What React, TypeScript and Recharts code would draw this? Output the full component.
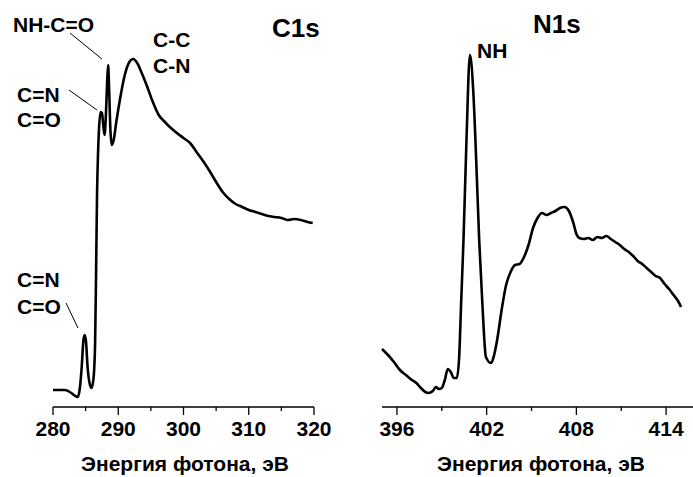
import React from 'react';
import { LineChart, Line, XAxis, YAxis, ReferenceLine } from 'recharts';

// C1s spectrum: photon energy (eV) and intensity (arb. units)
const c1sEnergy = [280.0, 281.0, 281.8, 282.6, 283.2, 283.8, 284.1, 284.4, 284.65, 284.85, 285.05, 285.3, 285.6, 285.9, 286.2, 286.45, 286.6, 286.75, 286.9, 287.05, 287.3, 287.5, 287.7, 287.9, 288.1, 288.3, 288.45, 288.6, 288.8, 289.0, 289.3, 289.7, 290.3, 291.0, 291.7, 292.3, 292.9, 293.6, 294.4, 295.3, 296.2, 297.0, 297.9, 299.0, 300.0, 301.0, 302.0, 303.0, 304.0, 305.0, 306.0, 307.0, 308.0, 309.0, 310.0, 311.0, 312.0, 313.0, 314.0, 315.0, 316.0, 317.0, 318.0, 319.0, 319.8];
const c1sIntensity = [17, 17, 17, 15, 12, 10, 18, 40, 66, 72, 66, 40, 24, 19, 28, 63, 133, 213, 253, 278, 295, 294, 282, 272, 291, 325, 342, 318, 277, 262, 267, 285, 309, 332, 345, 348, 344, 334, 321, 305, 292, 286, 280, 274, 269, 264, 255, 246, 236, 225, 215, 208, 203, 200, 197, 195, 193, 191, 190, 189, 187, 188, 187, 185, 184];

// N1s spectrum
const n1sEnergy = [395.0, 395.4, 395.8, 396.2, 396.6, 397.0, 397.3, 397.6, 397.9, 398.1, 398.4, 398.6, 398.8, 399.0, 399.2, 399.4, 399.6, 399.8, 400.0, 400.15, 400.3, 400.45, 400.65, 400.88, 401.1, 401.3, 401.5, 401.7, 401.95, 402.3, 402.5, 402.7, 403.0, 403.3, 403.6, 403.9, 404.2, 404.5, 404.8, 405.1, 405.4, 405.7, 406.0, 406.3, 406.6, 406.9, 407.2, 407.5, 407.8, 408.0, 408.2, 408.5, 408.8, 409.1, 409.4, 409.7, 410.0, 410.3, 410.6, 410.9, 411.2, 411.5, 411.8, 412.1, 412.4, 412.7, 413.0, 413.3, 413.6, 413.9, 414.2, 414.5, 414.8, 415.0];
const n1sIntensity = [58, 52, 45, 37, 32, 27, 24, 19, 15, 14, 16, 20, 18, 19, 27, 38, 35, 29, 29, 47, 107, 167, 267, 352, 317, 247, 167, 107, 50, 44, 52, 67, 97, 122, 135, 142, 143, 150, 162, 179, 189, 194, 192, 194, 196, 199, 200, 196, 184, 173, 169, 168, 169, 167, 170, 169, 171, 168, 165, 162, 158, 155, 151, 146, 143, 139, 135, 131, 129, 123, 118, 112, 106, 100];

const c1sTicks = [280, 285, 290, 295, 300, 305, 310, 315, 320];
const c1sMajor = [280, 290, 300, 310, 320];
const n1sTicks = [396, 399, 402, 405, 408, 411, 414];
const n1sMajor = [396, 402, 408, 414];

const c1sData = c1sEnergy.map((e, i) => ({ e, v: c1sIntensity[i] }));
const n1sData = n1sEnergy.map((e, i) => ({ e, v: n1sIntensity[i] }));

const FONT = '"Liberation Sans", Arial, sans-serif';

const makeTick = (majors: number[]) => (props: any) => {
  const { x, y, payload } = props;
  const major = majors.includes(payload.value);
  return (
    <g>
      <line x1={x} x2={x} y1={y} y2={y + (major ? 8 : 4)} stroke="#000" strokeWidth={1.3} />
      {major && (
        <text x={x} y={y + 29} textAnchor="middle" fontFamily={FONT} fontWeight="bold" fontSize={21} fill="#000">
          {payload.value}
        </text>
      )}
    </g>
  );
};

const T = (p: { x: number; y: number; s?: number; a?: 'start' | 'middle' | 'end'; children: React.ReactNode }) => (
  <text x={p.x} y={p.y} fontSize={p.s ?? 21} textAnchor={p.a ?? 'start'} fontFamily={FONT} fontWeight="bold" fill="#000">
    {p.children}
  </text>
);

export default function App() {
  return (
    <div style={{ position: 'absolute', left: 0, top: 0, width: 693, height: 477, background: '#fff' }}>
      <div style={{ position: 'absolute', left: 0, top: 0 }}>
        <LineChart width={340} height={477} data={c1sData} margin={{ top: 20, right: 26, bottom: 0, left: 53 }}>
          <XAxis
            dataKey="e"
            type="number"
            domain={[280, 320]}
            ticks={c1sTicks}
            interval={0}
            height={70}
            tickSize={0}
            tickMargin={0}
            tickLine={false}
            axisLine={{ stroke: '#000', strokeWidth: 1.3 }}
            tick={makeTick(c1sMajor)}
          />
          <YAxis hide domain={[0, 387]} />
          <ReferenceLine segment={[{ x: 282.6, y: 374 }, { x: 287.5, y: 348 }]} stroke="#000" strokeWidth={1} />
          <ReferenceLine segment={[{ x: 282.45, y: 317 }, { x: 286.74, y: 297 }]} stroke="#000" strokeWidth={1} />
          <ReferenceLine segment={[{ x: 282.0, y: 104 }, { x: 283.83, y: 79 }]} stroke="#000" strokeWidth={1} />
          <Line dataKey="v" type="monotone" stroke="#000" strokeWidth={2.6} dot={false} isAnimationActive={false} />
        </LineChart>
      </div>
      <div style={{ position: 'absolute', left: 340, top: 0 }}>
        <LineChart width={353} height={477} data={n1sData} margin={{ top: 20, right: 0, bottom: 0, left: 42 }}>
          <XAxis
            dataKey="e"
            type="number"
            domain={[395, 415.8]}
            ticks={n1sTicks}
            interval={0}
            height={70}
            tickSize={0}
            tickMargin={0}
            tickLine={false}
            axisLine={{ stroke: '#000', strokeWidth: 1.3 }}
            tick={makeTick(n1sMajor)}
          />
          <YAxis hide domain={[0, 387]} />
          <Line dataKey="v" type="monotone" stroke="#000" strokeWidth={2.6} dot={false} isAnimationActive={false} />
        </LineChart>
      </div>
      <svg width={693} height={477} style={{ position: 'absolute', left: 0, top: 0, pointerEvents: 'none' }}>
        <T x={272} y={37} s={26}>C1s</T>
        <T x={533} y={33} s={26}>N1s</T>
        <T x={13} y={32}>NH-C=O</T>
        <T x={153} y={47}>C-C</T>
        <T x={153} y={73}>C-N</T>
        <T x={17} y={102}>C=N</T>
        <T x={17} y={127}>C=O</T>
        <T x={17} y={287}>C=N</T>
        <T x={17} y={314}>C=O</T>
        <T x={477} y={58}>NH</T>
        <T x={185} y={471} s={21} a="middle">Энергия фотона, эВ</T>
        <T x={541} y={471} s={21} a="middle">Энергия фотона, эВ</T>
      </svg>
    </div>
  );
}
